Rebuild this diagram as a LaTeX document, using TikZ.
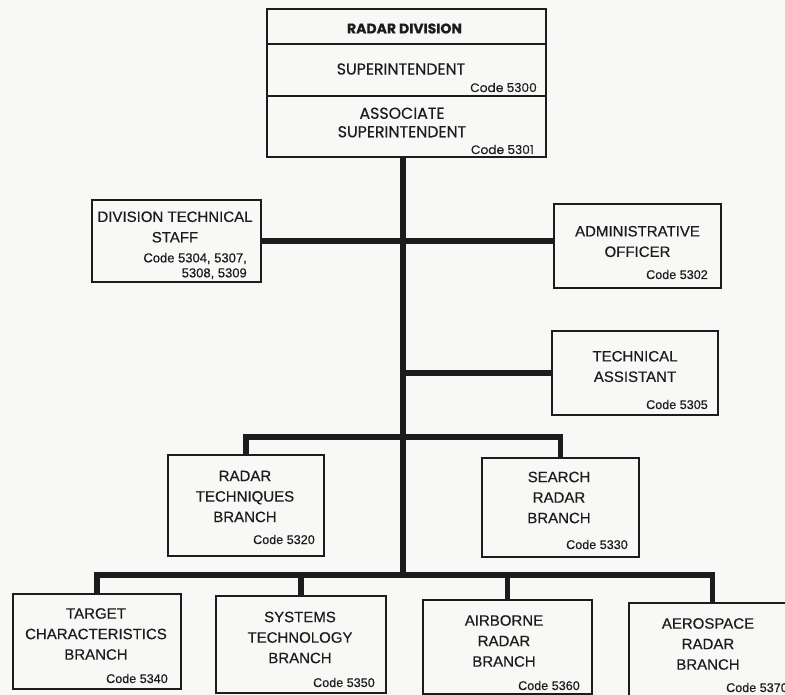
\documentclass[tikz,border=0pt]{standalone}
\usepackage{fontspec}
\setmainfont{Liberation Sans}[FakeBold=0.5]
\newfontfamily\geofont{Poppins}[FakeBold=0.4]
\definecolor{ink}{HTML}{1C1C1C}
\definecolor{paper}{HTML}{F8F8F6}
\begin{document}
\begin{tikzpicture}[x=1pt,y=-1pt,
  orgbox/.style={draw=ink,line width=1.8pt,rectangle,inner sep=0pt,anchor=north west},
  rule/.style={draw=ink,line width=1.8pt},
  conn/.style={draw=ink,line width=5.5pt,line join=miter},
  title/.style={text=ink,inner sep=0pt,align=center,font=\fontsize{15}{20.5}\selectfont},
  code/.style={text=ink,inner sep=0pt,anchor=base east,font=\fontsize{12.6}{15}\selectfont},
  headbold/.style={text=ink,inner sep=0pt,font=\geofont\bfseries\fontsize{14}{18}\selectfont},
  headtext/.style={text=ink,inner sep=0pt,align=center,font=\geofont\fontsize{15.8}{18.5}\selectfont},
  headcode/.style={text=ink,inner sep=0pt,anchor=base east,font=\geofont\fontsize{12.2}{15}\selectfont}]

% page
\fill[paper] (0,0) rectangle (785,695);
\useasboundingbox (0,0) rectangle (785,695);

% division head box with its three panels
\node[orgbox,minimum width=279pt,minimum height=148pt] (div) at (266,8) {};
\draw[rule] (266,44) -- (545,44);
\draw[rule] (266,96) -- (545,96);
\node[headbold] (divname) at (404.5,28.5) {RADAR DIVISION};
\node[headtext] (sup) at (401,69) {SUPERINTENDENT};
\node[headcode] (supcode) at (537,92) {Code 5300};
\node[headtext] (assoc) at (402,122.5) {ASSOCIATE\\SUPERINTENDENT};
\node[headcode] (assoccode) at (534,154) {Code 5301};

% staff offices
\node[orgbox,minimum width=169pt,minimum height=82pt] (dts) at (91,199) {};
\node[title] (dtst) at (175,227) {DIVISION TECHNICAL\\STAFF};
\node[text=ink,inner sep=0pt,align=right,anchor=east,font=\fontsize{13}{15}\selectfont] (dtsc) at (247,266) {Code 5304, 5307,\\5308, 5309};

\node[orgbox,minimum width=167pt,minimum height=84pt] (adm) at (553,203) {};
\node[title] (admt) at (637.5,241.5) {ADMINISTRATIVE\\OFFICER};
\node[code] (admc) at (708,279) {Code 5302};

\node[orgbox,minimum width=166pt,minimum height=84pt] (ta) at (551,330) {};
\node[title] (tat) at (635,366.5) {TECHNICAL\\ASSISTANT};
\node[code] (tac) at (708,409) {Code 5305};

% branches, first tier
\node[orgbox,minimum width=156pt,minimum height=101pt] (rt) at (167,454) {};
\node[title] (rtt) at (245,496.5) {RADAR\\TECHNIQUES\\BRANCH};
\node[code] (rtc) at (315,544) {Code 5320};

\node[orgbox,minimum width=157pt,minimum height=99pt] (sr) at (481,457) {};
\node[title] (srt) at (559,497.5) {SEARCH\\RADAR\\BRANCH};
\node[code] (src) at (628,549) {Code 5330};

% branches, second tier
\node[orgbox,minimum width=168pt,minimum height=95pt] (tc) at (12,593) {};
\node[title] (tct) at (96,634) {TARGET\\CHARACTERISTICS\\BRANCH};
\node[code] (tcc) at (168,683) {Code 5340};

\node[orgbox,minimum width=170pt,minimum height=97pt] (st) at (215,595) {};
\node[title] (stt) at (300,637.5) {SYSTEMS\\TECHNOLOGY\\BRANCH};
\node[code] (stc) at (375,687) {Code 5350};

\node[orgbox,minimum width=169pt,minimum height=94pt] (ab) at (422,599) {};
\node[title] (abt) at (504,641) {AIRBORNE\\RADAR\\BRANCH};
\node[code] (abc) at (580,690) {Code 5360};

\node[orgbox,minimum width=167pt,minimum height=95pt] (as) at (628,602) {};
\node[title] (ast) at (708,644) {AEROSPACE\\RADAR\\BRANCH};
\node[code] (asc) at (788,692) {Code 5370};

% connectors
\coordinate (t0) at (403,156);
\coordinate (mid) at (403,437);
\coordinate (t1) at (403,575);
\draw[conn] (t0) -- (t1);
\draw[conn] (dts.east) -- (dts.east -| adm.west);
\draw[conn] (ta.west) -- (ta.west -| t0);
\draw[conn] (rt.north) -- (rt.north |- mid) -- (sr.north |- mid) -- (sr.north);
\draw[conn] (tc.north) -- (tc.north |- t1) -- (as.north |- t1) -- (as.north);
\draw[conn] (st.north) -- (st.north |- t1);
\draw[conn] (ab.north) -- (ab.north |- t1);
\end{tikzpicture}
\end{document}
